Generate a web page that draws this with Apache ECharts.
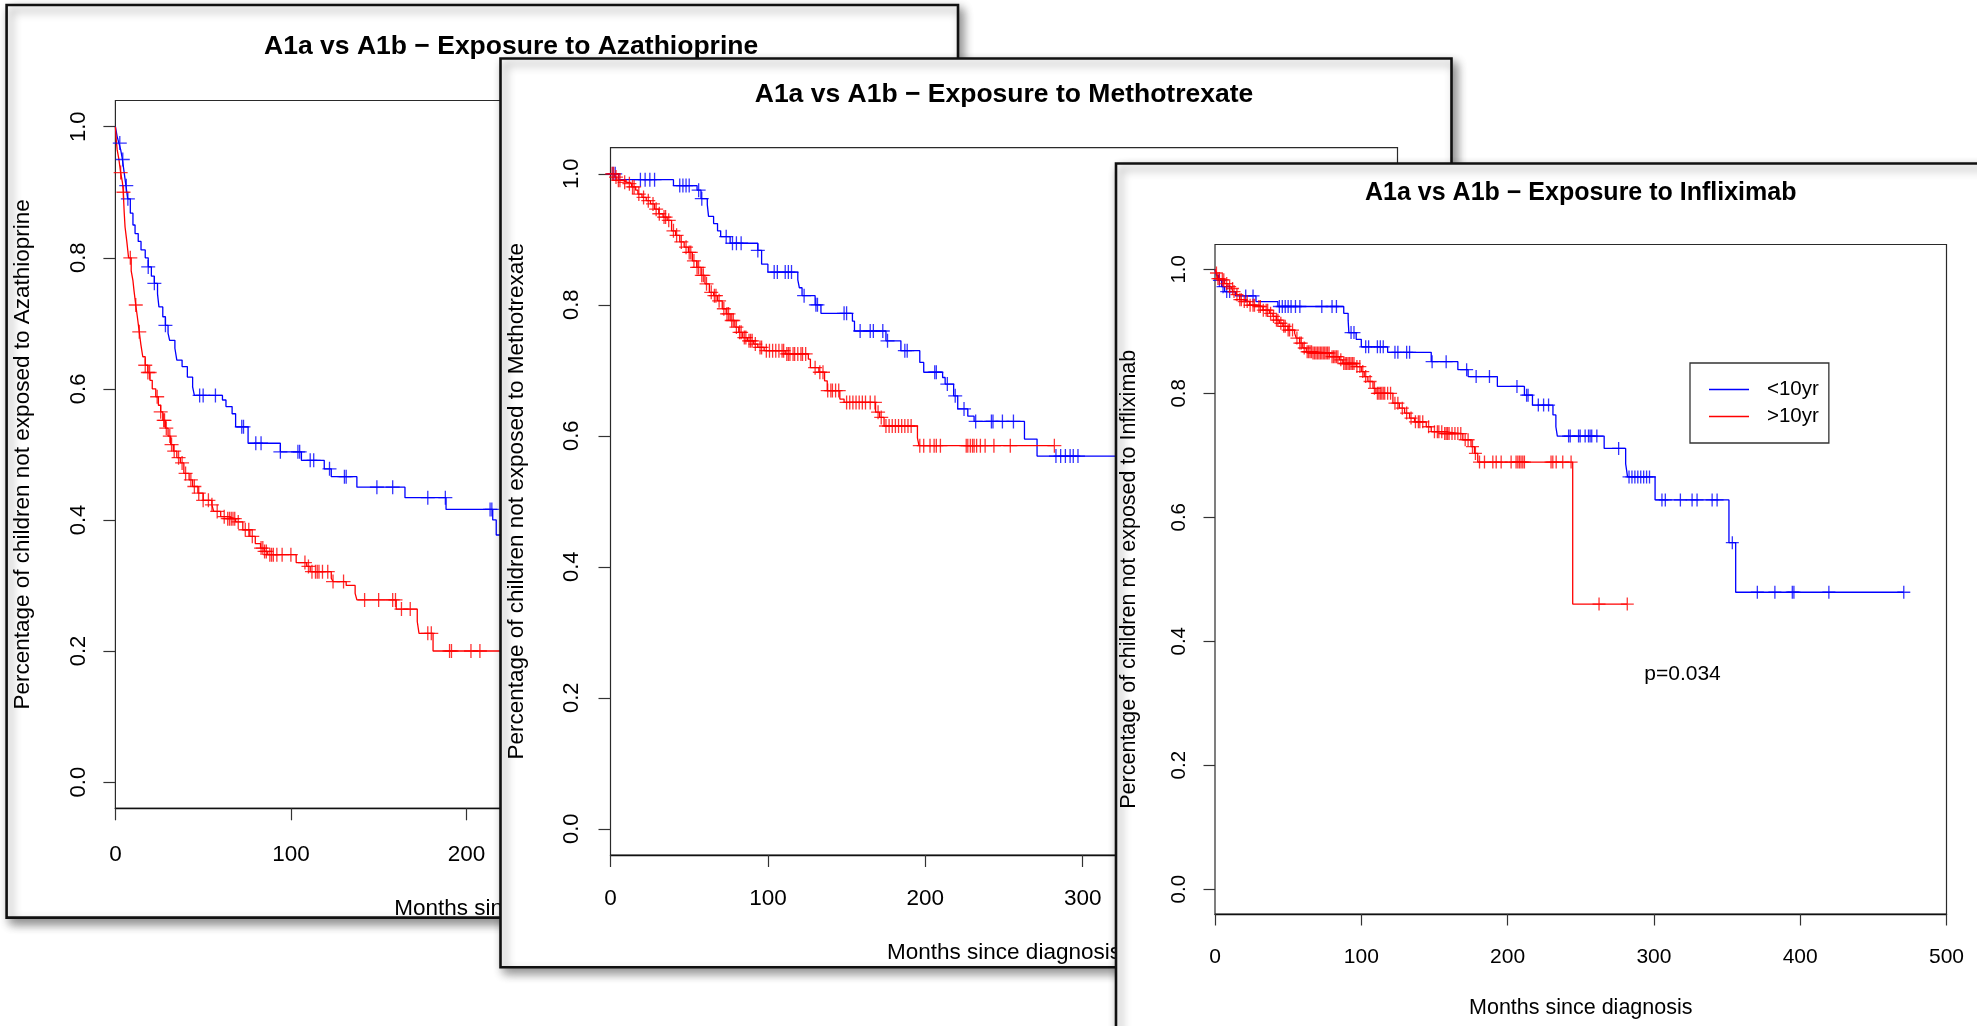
<!DOCTYPE html>
<html>
<head>
<meta charset="utf-8">
<title>A1a vs A1b – exposure to immunomodulators</title>
<script src="https://cdn.jsdelivr.net/npm/echarts@6/dist/echarts.min.js"></script>
<style>
  html, body { margin: 0; padding: 0; background: #fff; overflow: hidden; }
  #chart { width: 1977px; height: 1026px; }
</style>
</head>
<body>
<div id="chart"></div>
<script>
// Kaplan–Meier step curves: [months since diagnosis, proportion not yet exposed]
// Censoring times are listed separately (months).

// --- Azathioprine ---
const azaUnder10 = [[0,1],[1,0.985],[2,0.975],[3,0.965],[4,0.95],[5,0.93],[6,0.91],[7,0.89],[8.5,0.868],[10,0.85],
  [11.2,0.837],[13,0.825],[14.6,0.812],[17,0.8],[18.7,0.786],[20.5,0.772],[22.2,0.761],[24,0.745],[24.8,0.725],
  [27,0.71],[28.5,0.697],[30,0.685],[30.9,0.674],[33.9,0.662],[35,0.644],[38,0.634],[41,0.618],[44,0.603],[45,0.59],
  [61,0.583],[63,0.573],[66.5,0.562],[68.5,0.542],[75.6,0.517],[94,0.504],[106,0.491],[119,0.478],[123,0.466],
  [137.6,0.45],[165,0.434],[188.4,0.416],[215,0.4],[217,0.377],[235,0.377]];
const azaOver10 = [[0,1],[0.5,0.98],[1,0.965],[2,0.95],[3,0.93],[4,0.915],[4.5,0.9],[5,0.87],[5.5,0.847],[6.5,0.825],
  [7.5,0.8],[9,0.78],[10,0.765],[10.6,0.75],[11.6,0.728],[12.5,0.71],[13.6,0.687],[14.5,0.668],[15.6,0.649],[17,0.636],
  [18.5,0.625],[19.7,0.613],[21,0.6],[23,0.588],[24.5,0.575],[25.8,0.565],[27,0.552],[28.5,0.54],[30,0.528],[31.5,0.515],
  [33,0.505],[35,0.495],[37,0.487],[39,0.471],[42,0.461],[44,0.451],[47,0.441],[50,0.43],[55,0.423],[56,0.413],[60,0.405],
  [64,0.402],[68.5,0.397],[72.6,0.385],[76.6,0.375],[79.7,0.364],[82.7,0.357],[84.8,0.352],[86.8,0.347],[103,0.335],
  [109,0.329],[111,0.321],[123,0.311],[124,0.306],[131.5,0.3],[136.6,0.288],[137.6,0.278],[160,0.264],[172,0.245],
  [173,0.227],[181,0.2],[225,0.2]];
const azaUnder10Censored = [2.5,4.2,6.2,7.1,18.7,22.2,28.5,48,50,57,72,73,80,83,94,104,105,111,113,122,130.5,131.5,
  149,158,178,188,213.5,214.5];
const azaOver10Censored = [3,4.6,8.5,11.6,13.6,17,18.5,19.5,23.8,25.8,27.5,28,29,31,32,33.5,36,38,40,43,45,47.5,50,53,55,
  58,62,64,65,66,67,68,70,74,76,78,83,84,85,86,88,89,90,92,95,100,108,110,112,114,115,116,118,121,124,130,142,150,158,
  159.6,163,168,178,180,190.4,191.5,202.6,207.7];

// --- Methotrexate ---
const mtxUnder10 = [[0,1],[5.3,0.991],[40,0.982],[55,0.975],[57.5,0.962],[61.5,0.953],[62.3,0.935],[65.5,0.924],[68,0.913],
  [70,0.904],[76,0.894],[93.6,0.883],[96,0.862],[100,0.85],[119,0.838],[120,0.826],[121.7,0.814],[130,0.8],[133.7,0.787],
  [153.7,0.775],[155,0.76],[175,0.745],[184.5,0.73],[196.5,0.712],[199,0.697],[211,0.689],[212.6,0.679],[218,0.661],
  [220.6,0.641],[227,0.63],[231,0.622],[263,0.595],[271,0.569],[330,0.569]];
const mtxOver10 = [[0,1],[2.7,0.995],[4,0.99],[8,0.987],[10.7,0.985],[13.4,0.98],[16,0.975],[17.4,0.969],[20,0.964],
  [22.7,0.959],[25.4,0.954],[28,0.946],[30.7,0.939],[33.4,0.934],[36,0.929],[38.8,0.913],[41.4,0.906],[44,0.896],
  [46.8,0.888],[49.5,0.88],[52,0.867],[54.8,0.857],[57.5,0.845],[60,0.832],[62.8,0.819],[65.5,0.814],[68,0.806],[71,0.794],
  [73.5,0.786],[76,0.776],[79,0.766],[81.5,0.758],[84,0.75],[87,0.745],[91,0.74],[93.6,0.735],[97.6,0.73],[111,0.725],
  [125.7,0.717],[127,0.704],[132.4,0.697],[136,0.684],[137.7,0.669],[145.7,0.656],[148.4,0.651],[168.4,0.636],[171,0.628],
  [173.8,0.615],[195,0.597],[196,0.585],[282,0.585]];
const mtxUnder10Censored = [1.5,3,19,22,25,28,44,46,48,50,56,58,73.5,77.5,80,83,93.6,104,106,111,113,115,123,130.5,131.5,
  148.4,150,158.6,165,167,173,176,187,188.5,206,207,214,219,224.6,232,242,243,249,256,283,286,289,292,294,297];
const mtxOver10Censored = [1,2,3.5,5,6,9,12,14,15,18,21,24,27,29,31,34,35,37,40,42,45,48,50,51,53,55,56,58,59,61,64,66,67,
  69,72,74,75,77,78,80,82,83,85,86,88,89,90,92,95,96,99,101,103,105,107,109,110,112,113,114,116,117,119,121,122,124,130,
  133,135,138,140,141,143,145,150,152,154,156,158,160,162,165,168,170,172,175,177,179,181,183,185,187,189,191,196.5,199,
  203,205.6,207,209.6,226,227,228.6,230,231,232.6,235,238,243.6,254,282];

// --- Infliximab ---
const infUnder10 = [[0,1],[1,0.99],[2.5,0.982],[4.5,0.972],[6.6,0.964],[14,0.957],[28,0.948],[43,0.94],[88,0.929],[91,0.918],
  [91.5,0.898],[96.5,0.887],[100,0.875],[118,0.866],[147.8,0.851],[166,0.838],[173,0.827],[193,0.811],[211.5,0.797],
  [217,0.781],[231,0.765],[233,0.746],[234,0.731],[266,0.711],[280.7,0.686],[282,0.665],[300.8,0.628],[351.3,0.559],
  [355.9,0.479],[470.8,0.479]];
const infOver10 = [[0,1],[0.9,0.994],[2,0.985],[4.3,0.983],[6.6,0.977],[8.9,0.972],[11,0.969],[12.3,0.964],[14.6,0.959],
  [16.8,0.951],[19,0.948],[23.7,0.942],[28,0.94],[32.8,0.934],[37.3,0.929],[39.6,0.924],[41.9,0.918],[44,0.913],[46.4,0.908],
  [49.9,0.902],[54.4,0.897],[55.5,0.889],[57.8,0.881],[60,0.873],[62.4,0.867],[67,0.865],[78.3,0.859],[85,0.854],
  [87.4,0.848],[96.5,0.843],[100,0.835],[102,0.827],[104.5,0.819],[108,0.808],[110,0.8],[121.6,0.784],[126,0.776],
  [129.6,0.768],[133,0.76],[136.4,0.754],[144.4,0.746],[147.8,0.738],[155.7,0.735],[169.4,0.725],[175,0.714],
  [177.4,0.703],[179.6,0.689],[244.5,0.46],[281.8,0.46]];
const infUnder10Censored = [3,5.5,8,10,21,26,44,46,48,50,52,55,58,73,80,83,93,95,103,105,111,113,115,123,125,131,133,148.4,
  158,172,178.5,187.6,206.4,213,214,221,224.6,228,241.7,242.8,248.5,249.6,253,255.3,256.4,257.5,261,275.9,283,285,287,289,
  291,293,295,297,305.5,307.8,318.1,326.1,329.5,339.8,343.2,353.6,370.7,382.7,394.6,395.7,419.6,470.8];
const infOver10Censored = [1,2,3,5,6,8,10,12,13,15,17,18,20,22,24,26,27,30,31,33,35,36,38,40,42,43,45,47,48,50,51,53,56,58,
  59,61,63,64,65,66,67,68,69,70,71,72,73,74,75,76,77,78,80,81,82,83,84,86,88,89,90,91,92,93,94,95,97,99,101,103,106,109,
  111,112,113,114,115,116,118,120,123,125,128,131,134,137,139,140,142,146,150,152,153,155,157,158,159,160,162,164,166,
  168,171,173,176,178,180.8,184.2,189.9,192.2,195.6,202.4,205.8,207,208.1,209.2,210.4,211.5,229.7,230.9,233.2,237.7,
  243.4,262.5,281.8];

// Axis ticks
const yTickValues = [0, 0.2, 0.4, 0.6, 0.8, 1.0];
const azaXTicks = [0, 100, 200, 300, 400];
const monthXTicks = [0, 100, 200, 300, 400, 500];
const groupNames = ['<10yr', '>10yr'];
const pValueText = 'p=0.034';

const FONT = '"Liberation Sans", Arial, Helvetica, sans-serif';
const BLUE = '#0000ff';
const RED = '#ff0000';
const PLUS = 'path://M0,5L10,5M5,0L5,10';
const LEGEND_LINE = 'path://M0,0L40,0L40,1.3L0,1.3Z';

// survival value of a step curve at time t (right-continuous)
function survivalAt(curve, t) {
  let s = curve[0][1];
  for (const [ti, si] of curve) {
    if (ti <= t) s = si; else break;
  }
  return s;
}
function censorMarks(curve, times) {
  return times.map(t => [t, survivalAt(curve, t)]);
}

// Layout of the three overlapping plot windows (page pixels)
const panels = [
  {
    drug: 'Azathioprine', under: azaUnder10, over: azaOver10,
    underCens: azaUnder10Censored, overCens: azaOver10Censored,
    frame: [6.6, 5, 951.4, 912.6],
    grid: { left: 115.4, top: 100.5, width: 791.5, height: 707.8 },
    xMax: 451, xTicks: azaXTicks, titleY: 46.5,
    fs: { title: 26.5, tick: 22.5, ytick: 22, name: 22.5 },
    gap: { xLabel: 34.5, yLabel: 25, xName: 89, yName: 81.5, tick: 12 }, mark: 14
  },
  {
    drug: 'Methotrexate', under: mtxUnder10, over: mtxOver10,
    underCens: mtxUnder10Censored, overCens: mtxOver10Censored,
    frame: [500.5, 58.5, 951, 908.7],
    grid: { left: 610.5, top: 147.6, width: 787, height: 707.4 },
    xMax: 500, xTicks: monthXTicks, titleY: 94.5,
    fs: { title: 26.5, tick: 22.5, ytick: 22, name: 22.5 },
    gap: { xLabel: 32, yLabel: 27.5, xName: 86, yName: 82.5, tick: 12 }, mark: 14
  },
  {
    drug: 'Infliximab', under: infUnder10, over: infOver10,
    underCens: infUnder10Censored, overCens: infOver10Censored,
    frame: [1116, 163.5, 900, 900],
    grid: { left: 1215, top: 244.5, width: 731.5, height: 669.5 },
    xMax: 500, xTicks: monthXTicks, titleY: 193.5,
    fs: { title: 25, tick: 21, ytick: 20.5, name: 21.5 },
    gap: { xLabel: 32.5, yLabel: 25, xName: 83, yName: 75, tick: 11.5 }, mark: 13
  }
];

const option = {
  animation: false,
  backgroundColor: '#ffffff',
  grid: [], xAxis: [], yAxis: [], series: [],
  graphic: { elements: [] },
  legend: {
    data: groupNames.map(n => ({ name: n, icon: LEGEND_LINE })),
    orient: 'vertical',
    left: 1690, top: 363,
    z: 26,
    padding: [16, 10, 16, 19],
    itemGap: 6, itemWidth: 40, itemHeight: 14,
    symbolKeepAspect: true,
    selectedMode: false,
    backgroundColor: '#ffffff',
    borderColor: '#333333', borderWidth: 1.3, borderRadius: 0,
    textStyle: { fontSize: 20.5, fontFamily: FONT, color: '#000', lineHeight: 20, padding: [0, 0, 0, 13] }
  }
};

panels.forEach((p, i) => {
  const zb = i * 10;
  const g = p.grid;

  // window background with drop shadow
  option.graphic.elements.push({
    type: 'rect', z: zb, silent: true,
    shape: { x: p.frame[0], y: p.frame[1], width: p.frame[2], height: p.frame[3] },
    style: { fill: '#ffffff', stroke: '#111111', lineWidth: 2.6,
      shadowBlur: 10, shadowOffsetX: 4, shadowOffsetY: 5, shadowColor: 'rgba(0,0,0,0.45)' }
  });
  // main title
  option.graphic.elements.push({
    type: 'text', z: zb + 6, silent: true,
    x: g.left + g.width / 2, y: p.titleY,
    style: { text: 'A1a vs A1b \u2212 Exposure to ' + p.drug,
      font: 'bold ' + p.fs.title + 'px ' + FONT, fill: '#000',
      align: 'center', verticalAlign: 'middle', textAlign: 'center', textVerticalAlign: 'middle' }
  });

  option.grid.push({
    left: g.left, top: g.top, width: g.width, height: g.height,
    show: true, backgroundColor: 'transparent', borderColor: '#2a2a2a', borderWidth: 1.2,
    containLabel: false, outerBoundsMode: 'none', z: zb + 1
  });

  option.xAxis.push({
    type: 'value', gridIndex: i, min: 0, max: p.xMax, z: zb + 2,
    name: 'Months since diagnosis', nameLocation: 'middle', nameGap: p.gap.xName,
    nameTextStyle: { fontSize: p.fs.name, fontFamily: FONT, color: '#000' },
    axisLine: { show: true, onZero: false, lineStyle: { color: '#111', width: 1.4 } },
    axisTick: { show: true, inside: false, length: p.gap.tick, customValues: p.xTicks,
      lineStyle: { color: '#333', width: 1.2 } },
    axisLabel: { show: true, customValues: p.xTicks, margin: p.gap.xLabel, fontSize: p.fs.tick,
      fontFamily: FONT, color: '#000', hideOverlap: false, formatter: v => String(v) },
    splitLine: { show: false }
  });

  option.yAxis.push({
    type: 'value', gridIndex: i, min: -0.04, max: 1.04, z: zb + 2,
    name: 'Percentage of children not exposed to ' + p.drug, nameLocation: 'middle', nameGap: p.gap.yName,
    nameTextStyle: { fontSize: p.fs.name, fontFamily: FONT, color: '#000' },
    axisLine: { show: false },
    axisTick: { show: true, inside: false, length: p.gap.tick, customValues: yTickValues,
      lineStyle: { color: '#333', width: 1.2 } },
    axisLabel: { show: true, customValues: yTickValues, rotate: 90, margin: p.gap.yLabel, fontSize: p.fs.ytick,
      fontFamily: FONT, color: '#000', hideOverlap: false, formatter: v => v.toFixed(1) },
    splitLine: { show: false }
  });

  [[p.under, p.underCens, BLUE, groupNames[0]], [p.over, p.overCens, RED, groupNames[1]]].forEach(([curve, cens, color, name]) => {
    option.series.push({
      type: 'line', name: name, xAxisIndex: i, yAxisIndex: i, z: zb + 3,
      data: curve, step: 'end', symbol: 'none', showSymbol: false, silent: true,
      lineStyle: { color: color, width: 1.3 }, itemStyle: { color: color },
      emphasis: { disabled: true }, clip: true
    });
    option.series.push({
      type: 'scatter', name: name + ' censored', xAxisIndex: i, yAxisIndex: i, z: zb + 4,
      data: censorMarks(curve, cens), symbol: PLUS, symbolSize: p.mark, silent: true,
      itemStyle: { color: 'none', borderColor: color, borderWidth: 1.3 },
      emphasis: { disabled: true }
    });
  });
});

// log-rank p value in the Infliximab window
option.graphic.elements.push({
  type: 'text', z: 27, silent: true, x: 1682.5, y: 674,
  style: { text: pValueText, font: '21px ' + FONT, fill: '#000',
    align: 'center', verticalAlign: 'middle', textAlign: 'center', textVerticalAlign: 'middle' }
});

const chart = echarts.init(document.getElementById('chart'), null, { renderer: 'canvas' });
chart.setOption(option);
</script>
</body>
</html>
